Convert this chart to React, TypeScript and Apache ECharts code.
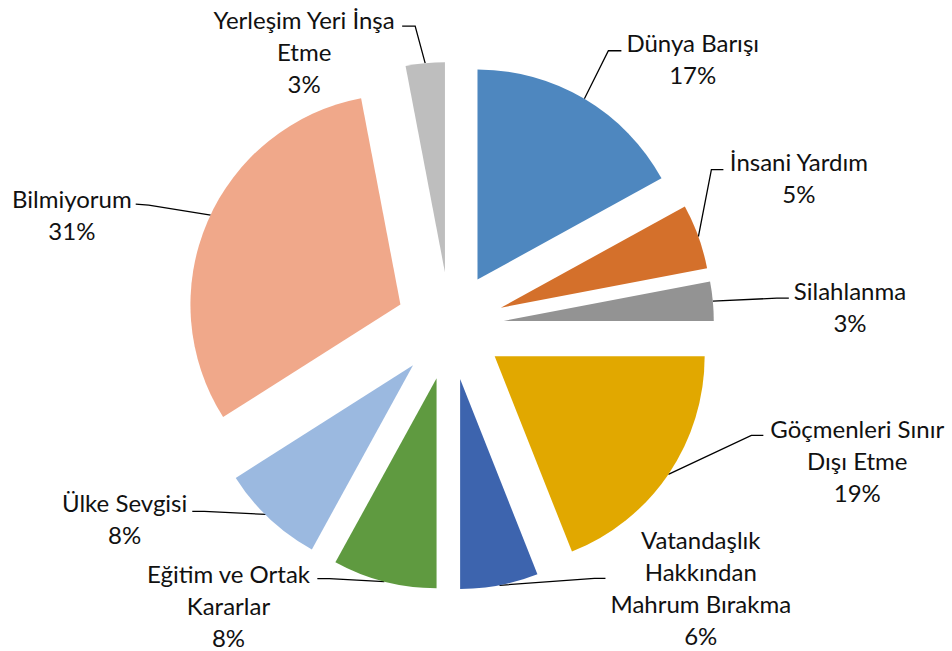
import React, { useEffect, useRef } from "react";
import * as echarts from "echarts";

const categories = [
  "Dünya Barışı",
  "İnsani Yardım",
  "Silahlanma",
  "Göçmenleri Sınır\nDışı Etme",
  "Vatandaşlık\nHakkından\nMahrum Bırakma",
  "Eğitim ve Ortak\nKararlar",
  "Ülke Sevgisi",
  "Bilmiyorum",
  "Yerleşim Yeri İnşa\nEtme",
];
const values = [17, 5, 3, 19, 6, 8, 8, 31, 3];
const colors = [
  "#4E87BF",
  "#D4702B",
  "#939393",
  "#E1A800",
  "#3D64AE",
  "#5F9A40",
  "#9BB9E0",
  "#F0A88A",
  "#BEBEBE",
];

// Layout of the leader lines / labels, in px relative to the point where the
// leader line leaves the slice edge (styling only, not data).
const LABEL_GEOM = [
  { start: [0, 0], elbow: [24, -48], end: [37, -48], gap: 5, dy: -8 },
  { start: [0, 0], elbow: [13, -67], end: [25, -67], gap: 6, dy: -8 },
  { start: [0, 0], elbow: [64, -3], end: [76, -3], gap: 5, dy: -8 },
  { start: [0, 0], elbow: [83, -39], end: [95, -39], gap: 7, dy: -7 },
  { start: [0, 0], elbow: [95, -7], end: [106, -7], gap: 5, dy: -39 },
  { start: [0, 0], elbow: [-55, -3], end: [-67, -3], gap: 7, dy: -5 },
  { start: [-3, -4], elbow: [-65, -7], end: [-77, -7], gap: 5, dy: -9 },
  { start: [3, -6], elbow: [-59, -16], end: [-72, -17], gap: 4, dy: -6 },
  { start: [0, 0], elbow: [-10, -37], end: [-23, -37], gap: 7, dy: -7 },
];

const EXPLODE = 54;
const LINE_H = 32;

export default function App() {
  const ref = useRef<HTMLDivElement>(null);
  useEffect(() => {
    if (!ref.current) return;
    const chart = echarts.init(ref.current, undefined, { renderer: "svg" });

    chart.setOption({
      animation: false,
      backgroundColor: "#ffffff",
      series: [
        {
          type: "pie",
          center: [450, 326],
          radius: [0, 210],
          startAngle: 90,
          clockwise: true,
          selectedMode: "multiple",
          selectedOffset: EXPLODE,
          avoidLabelOverlap: false,
          itemStyle: { borderWidth: 0 },
          emphasis: { disabled: true },
          label: {
            show: true,
            position: "outside",
            distanceToLabelLine: 0,
            formatter: (p: any) =>
              [...String(p.name).split("\n"), Math.round(p.percent) + "%"]
                .map((s) => `{c|${s}}`)
                .join("\n"),
            rich: {
              c: {
                align: "center",
                fontFamily: "Lato",
                fontSize: 24,
                lineHeight: LINE_H,
                color: "#111111",
              },
            },
          },
          labelLine: {
            show: true,
            length: 20,
            length2: 10,
            lineStyle: { color: "#000000", width: 1.3 },
          },
          labelLayout: (params: any) => {
            const i = params.dataIndex;
            const g = LABEL_GEOM[i];
            const pts = params.labelLinePoints;
            if (!g || !pts || !pts[0] || !pts[2]) return { hideOverlap: false };
            const p0 = pts[0];
            const p2 = pts[2];
            const w = params.labelRect.width;
            const right = g.end[0] > 0;
            const ex = p0[0] + g.end[0];
            const ey = p0[1] + g.end[1];
            const cx = right ? ex + g.gap + w / 2 : ex - g.gap - w / 2;
            const top = ey + g.dy - LINE_H / 2;
            return {
              hideOverlap: false,
              dx: cx - p2[0],
              dy: top - p2[1],
              align: "center",
              verticalAlign: "top",
              labelLinePoints: [
                [p0[0] + g.start[0], p0[1] + g.start[1]],
                [p0[0] + g.elbow[0], p0[1] + g.elbow[1]],
                [ex, ey],
              ],
            };
          },
          data: categories.map((name, i) => ({
            name,
            value: values[i],
            selected: true,
            itemStyle: { color: colors[i] },
          })),
        },
      ],
    });
    return () => chart.dispose();
  }, []);
  return (
    <div
      ref={ref}
      style={{ position: "fixed", left: 0, top: 0, width: 952, height: 651 }}
    />
  );
}
